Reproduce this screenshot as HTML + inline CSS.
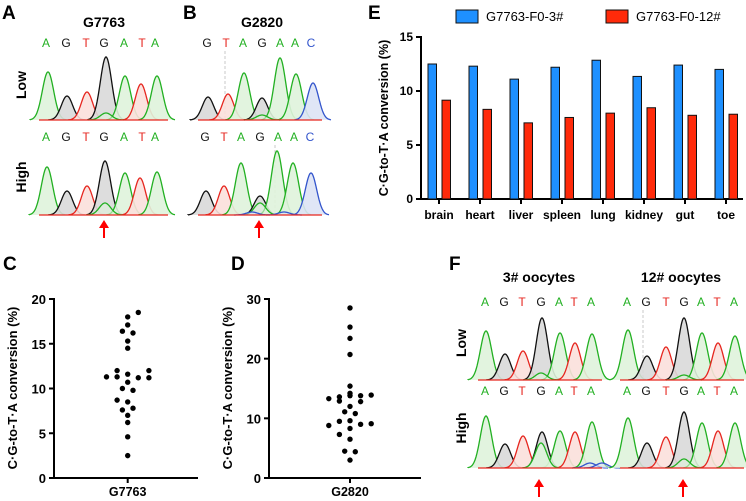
<!DOCTYPE html>
<html><head><meta charset="utf-8">
<style>
html,body{margin:0;padding:0;background:#fff;}
svg{display:block;font-family:"Liberation Sans",Arial,sans-serif;}
.b{font-weight:bold;}
</style></head>
<body>
<svg id="fig" width="746" height="501" viewBox="0 0 746 501" xmlns="http://www.w3.org/2000/svg">
<g class="b" font-size="19">
<text x="2" y="19">A</text>
<text x="183" y="19">B</text>
<text x="368" y="19">E</text>
<text x="3" y="270">C</text>
<text x="231" y="270">D</text>
<text x="449" y="270">F</text>
</g>
<g class="b" font-size="14" text-anchor="middle">
<text x="104" y="27">G7763</text>
<text x="262" y="27">G2820</text>
<text x="539" y="282">3# oocytes</text>
<text x="681" y="282">12# oocytes</text>
</g>
<g class="b" font-size="14" text-anchor="middle">
<text transform="translate(26,85) rotate(-90)">Low</text>
<text transform="translate(26,177) rotate(-90)">High</text>
<text transform="translate(466,343) rotate(-90)">Low</text>
<text transform="translate(466,428) rotate(-90)">High</text>
</g>
<g id="chroms"></g>
<g id="barE"></g>
<g id="dotC"></g>
<g id="dotD"></g>
</svg>
<script>
// ---------- Bar chart E data ----------
const tissues = ["brain","heart","liver","spleen","lung","kidney","gut","toe"];
const seriesF03 = [12.5,12.3,11.1,12.2,12.85,11.35,12.4,12.0];
const seriesF012 = [9.15,8.3,7.05,7.55,7.95,8.45,7.75,7.85];
const eTicks = [0,5,10,15];
// ---------- Dot plot C / D data ----------
const valuesG7763 = [18.5,18.0,17.1,16.4,16.2,15.3,14.5,12.0,12.0,11.6,11.3,11.3,11.2,11.2,10.7,10.0,9.8,8.7,8.5,7.8,7.6,7.0,6.2,4.6,2.5];
const jitterG7763 = [2,0,0,-1,1,0,0,-2,4,0,-4,-2,2,4,0,-1,1,-2,0,1,-1,0,0,0,0];
const cTicks = [0,5,10,15,20];
const valuesG2820 = [28.5,25.3,23.4,20.7,15.4,14.2,13.6,13.8,13.3,13.8,13.9,12.9,12.8,12.0,11.1,10.8,9.5,8.8,9.6,9.0,9.1,8.3,7.3,6.5,4.5,4.4,3.0];
const jitterG2820 = [0,0,0,0,0,0,-2,0,-4,2,4,-2,2,0,-1,1,-2,-4,0,2,4,0,-2,0,-1,1,0];
const dTicks = [0,10,20,30];

const NS="http://www.w3.org/2000/svg";
function el(tag, attrs, parent){const e=document.createElementNS(NS,tag);for(const k in attrs)e.setAttribute(k,attrs[k]);parent.appendChild(e);return e;}
const COL={A:"#22b022",T:"#e6261f",G:"#111",C:"#3355cc"};
const FILL={A:"#dff3dc",T:"#fbe0dc",G:"#d9d9d9",C:"#dde3f5"};

// ---------- Chromatogram data ----------
const basesA = ["A","G","T","G","A","T","A"];
const basesB = ["G","T","A","G","A","A","C"];
const chroms = [
 {bases:basesA, bx:[46,66,86,104,124,142,155], px:[48,67,87,106,125,141,157], base:120, tops:[72,96,92,57,76,84,76], x0:39,x1:168, by:47, small:[[106,113,"A"]], sig:6},
 {bases:basesA, bx:[46,66,86,104,124,142,155], px:[47,67,87,105,125,140,157], base:215, tops:[167,191,186,161,173,178,172], x0:39,x1:168, by:141, small:[[105,203,"A"]], sig:6},
 {bases:basesB, bx:[207,226,243,262,280,295,311], px:[208,228,244,262,280,296,313], base:120, tops:[97,94,73,98,58,74,83], x0:198,x1:322, by:47, small:[[262,115,"A"]], sig:6, dash:225},
 {bases:basesB, bx:[205,224,241,260,278,294,310], px:[206,224,241,260,277,293,311], base:215, tops:[191,186,163,196,151,163,173], x0:198,x1:322, by:141, small:[[260,203,"A"],[252,212,"C"],[284,212,"C"]], sig:6, dash:275},
 {bases:basesA, bx:[485,504,522,541,559,574,591], px:[486,505,523,542,560,575,592], base:380, tops:[331,354,351,318,333,343,334], x0:478,x1:602, by:306, small:[[541,373,"A"]], sig:6},
 {bases:basesA, bx:[627,646,666,684,701,717,734], px:[628,647,666,684,702,718,735], base:380, tops:[330,356,347,318,333,343,336], x0:620,x1:744, by:306, small:[[684,375,"A"]], sig:6, dash:643},
 {bases:basesA, bx:[485,504,522,541,559,574,591], px:[486,505,523,542,560,575,592], base:468, tops:[416,444,436,432,431,432,422], x0:478,x1:602, by:395, small:[[541,443,"A"],[590,463,"C"],[602,463,"C"]], sig:6},
 {bases:basesA, bx:[627,646,666,684,701,717,734], px:[628,647,666,684,702,718,735], base:468, tops:[418,443,437,412,423,431,423], x0:620,x1:744, by:395, small:[[684,459,"A"]], sig:6}
];
const arrows = [[104,238],[259,238],[539,497],[683,497]];

const cg=document.getElementById("chroms");
chroms.forEach((c,ci)=>{
  const g=el("g",{},cg);
  
  
  c.bases.forEach((b,i)=>{
    const t=el("text",{x:c.bx[i],y:c.by,"font-size":"12","text-anchor":"middle",fill:COL[b]},g);
    t.textContent=b;
    
    
  });
  if(c.dash){const d=el("line",{x1:c.dash,x2:c.dash,y1:c.by+4,y2:c.base,stroke:"#bbb","stroke-dasharray":"3,2","stroke-width":"0.8"},g);
    }
  const peaks=c.px.map((x,i)=>[x,c.tops[i],c.bases[i]]).concat(c.small);
  peaks.forEach(p=>{
    const h=c.base-p[1], s=c.sig;
    let d="M"+(p[0]-3*s)+","+c.base;
    for(let x=-3*s;x<=3*s;x+=0.5){d+=" L"+(p[0]+x).toFixed(1)+","+(c.base-h*Math.exp(-x*x/(2*s*s*0.9))).toFixed(1);}
    const pa=el("path",{d:d,fill:FILL[p[2]],"fill-opacity":p[1]>c.base-15?0.6:0.9,stroke:COL[p[2]],"stroke-width":"1.3"},g);
    
    
  });
  const bl=el("line",{x1:c.x0,x2:c.x1,y1:c.base,y2:c.base,stroke:"#e6261f","stroke-width":"1.3"},g);
  
});
arrows.forEach(a=>{
  const g=el("g",{},cg);
  
  
  el("line",{x1:a[0],x2:a[0],y1:a[1]-12,y2:a[1],stroke:"#ff0000","stroke-width":"2"},g);
  el("polygon",{points:(a[0]-5)+","+(a[1]-10)+" "+(a[0]+5)+","+(a[1]-10)+" "+a[0]+","+(a[1]-18),fill:"#ff0000"},g);
});

// ---------- Bar chart E ----------
const eg=document.getElementById("barE");
const eX0=421,eX1=743,eY0=199,eY1=37,eMax=15;
const ey=v=>eY0-(v/eMax)*(eY0-eY1);
const ex=i=>439+i*41;
function ln(g,x1,y1,x2,y2,w,name){const l=el("line",{x1,y1,x2,y2,stroke:"#000","stroke-width":w},g);return l;}
ln(eg,eX0,eY1-1,eX0,eY0+1,2,'y-axis-e');
ln(eg,eX0-1,eY0,eX1,eY0,2,'x-axis-e');
eTicks.forEach(t=>{
  ln(eg,eX0-5,ey(t),eX0,ey(t),2,'y-tick-e');
  const tx=el("text",{x:eX0-8,y:ey(t)+4,"font-size":"12","font-weight":"bold","text-anchor":"end"},eg);
  tx.textContent=t;
});
tissues.forEach((t,i)=>{
  const b1=el("rect",{x:ex(i)-11,y:ey(seriesF03[i]),width:8.5,height:eY0-ey(seriesF03[i]),fill:"#1e90ff",stroke:"#111","stroke-width":"1"},eg);
  
  const b2=el("rect",{x:ex(i)+3,y:ey(seriesF012[i]),width:8.5,height:eY0-ey(seriesF012[i]),fill:"#ff2a0a",stroke:"#111","stroke-width":"1"},eg);
  
  ln(eg,ex(i),eY0,ex(i),eY0+5,2,'x-tick-e');
  const tx=el("text",{x:ex(i),y:219,"font-size":"12","font-weight":"bold","text-anchor":"middle"},eg);
  tx.textContent=t;
});
const eyt=el("text",{transform:"translate(388,118) rotate(-90)","font-size":"12.5","font-weight":"bold","text-anchor":"middle"},eg);
eyt.textContent="C·G-to-T·A conversion (%)";
[[456,"#1e90ff","G7763-F0-3#"],[606,"#ff2a0a","G7763-F0-12#"]].forEach(L=>{
  const g=el("g",{},eg);
  el("rect",{x:L[0],y:10,width:22,height:13,fill:L[1],stroke:"#111","stroke-width":"1"},g);
  const t=el("text",{x:L[0]+30,y:21,"font-size":"13"},g);t.textContent=L[2];
});

// ---------- Dot plots ----------
function dotPlot(gid,xA,xEnd,xc,max,ticks,vals,jit,label,key){
  const g=document.getElementById(gid);
  const y0=478,y1=299;
  const y=v=>y0-(v/max)*(y0-y1);
  ln(g,xA,y1-1,xA,y0+1,2,'y-axis-'+key);
  ln(g,xA-1,y0,xEnd,y0,2,'x-axis-'+key);
  ticks.forEach(t=>{
    ln(g,xA-5,y(t),xA,y(t),2,'y-tick-'+key);
    const tx=el("text",{x:xA-8,y:y(t)+5,"font-size":"13","font-weight":"bold","text-anchor":"end"},g);
    tx.textContent=t;
  });
  ln(g,xc,y0,xc,y0+5,2,'x-tick-'+key);
  const xl=el("text",{x:xc,y:496,"font-size":"12.5","font-weight":"bold","text-anchor":"middle"},g);
  xl.textContent=label;
  const yt=el("text",{transform:"translate("+(xA-37)+",388) rotate(-90)","font-size":"13","font-weight":"bold","text-anchor":"middle"},g);
  yt.textContent="C·G-to-T·A conversion (%)";
  vals.forEach((v,i)=>{
    const c=el("circle",{cx:xc+jit[i]*5.3,cy:y(v),r:2.7,fill:"#000"},g);
    
    
  });
}
dotPlot("dotC",54,198,127.7,20,cTicks,valuesG7763,jitterG7763,"G7763","c");
dotPlot("dotD",269,421,350,30,dTicks,valuesG2820,jitterG2820,"G2820","d");
</script>
</body></html>
